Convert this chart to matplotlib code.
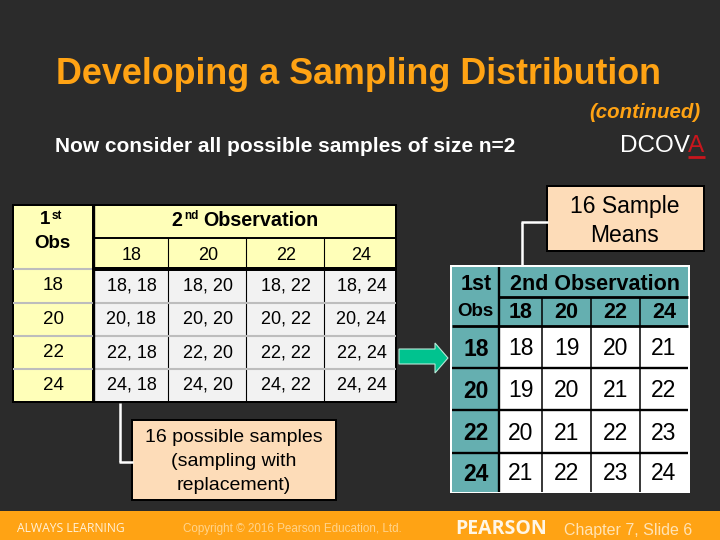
import matplotlib
matplotlib.use("Agg")
import matplotlib.pyplot as plt
from matplotlib.patches import Rectangle, Polygon

plt.rcParams['font.family'] = ['Liberation Sans', 'DejaVu Sans']

## -- values
obs_labels = ["18", "20", "22", "24"]
sample_pairs = [["18,18", "18,20", "18,22", "18,24"],
                ["20,18", "20,20", "20,22", "20,24"],
                ["22,18", "22,20", "22,22", "22,24"],
                ["24,18", "24,20", "24,22", "24,24"]]
sample_means = [[18, 19, 20, 21],
                [19, 20, 21, 22],
                [20, 21, 22, 23],
                [21, 22, 23, 24]]

title = "Developing a Sampling Distribution"
subtitle = "Now consider all possible samples of size n=2"

bg = "#2b2b2b"
orange = "#ffa314"
pale = "#ffffb9"
grey = "#f2f2f2"
peach = "#fddcb8"
teal = "#65afb0"
arrow_col = "#00c38f"

fig = plt.figure(figsize=(7.2, 5.4), dpi=100, facecolor=bg)
ax = fig.add_axes([0, 0, 1, 1])
ax.set_xlim(0, 720)
ax.set_ylim(540, 0)
ax.axis("off")


def box(x0, y0, x1, y1, col, z=1):
    ax.add_patch(Rectangle((x0, y0), x1 - x0, y1 - y0, fc=col, ec="none", zorder=z))


def hline(y, x0, x1, col="black", lw=1.5):
    ax.plot([x0, x1], [y, y], color=col, lw=lw, solid_capstyle="butt", zorder=3)


def vline(x, y0, y1, col="black", lw=1.5):
    ax.plot([x, x], [y0, y1], color=col, lw=lw, solid_capstyle="butt", zorder=3)


def txt(x, y, s, size, col="black", w="normal", ha="center", style="normal"):
    ax.text(x, y, s, fontsize=size, color=col, fontweight=w, ha=ha, va="center",
            style=style, zorder=5)


## -- headings
txt(56, 75, title, 25.8, orange, "bold", "left")
txt(700, 112, "(continued)", 14.7, orange, "bold", "right", "italic")
txt(55, 146, subtitle, 15, "white", "bold", "left")
txt(620, 146, "DCOV", 17.5, "white", ha="left")
txt(696.5, 146, "A", 17.5, "#c8161d")
hline(156.5, 688, 705, "#c8161d", 2)

## -- left table
lx = [93, 168, 246, 324, 397]
ly = [269, 303, 336, 369, 402]
box(12, 204, 397, 403, "black")
box(14, 206, 92, 401, pale, 2)
box(95, 206, 395, 267, pale, 2)
box(95, 271, 395, 401, grey, 2)
hline(238, 95, 395, lw=1.4)
hline(269, 95, 395, lw=1.7)
for x in lx[1:4]:
    vline(x, 238, 402, lw=0.8)
for y in ly[1:4]:
    hline(y, 13, 396, "#bdbdbd", 1.5)
hline(269, 13, 92, "#bdbdbd", 1.5)
vline(93.5, 204, 403, lw=1.7)

txt(50, 220, "1", 13.5, w="bold", ha="right")
txt(52, 216, "st", 8.5, w="bold", ha="left")
txt(52, 244, "Obs", 13.5, w="bold")
txt(171, 220, "2", 14.2, w="bold", ha="left")
txt(184, 216, "nd", 8.5, w="bold", ha="left")
txt(203, 220, "Observation", 14.2, w="bold", ha="left")

for j, lab in enumerate(obs_labels):
    cx = (lx[j] + lx[j + 1]) / 2 + 1
    txt(cx, 255, lab, 13)
for i, lab in enumerate(obs_labels):
    cy = (ly[i] + ly[i + 1]) / 2
    txt(53, cy, lab, 13.5)
    for j, pair in enumerate(sample_pairs[i]):
        cx = (lx[j] + lx[j + 1]) / 2 + 1
        txt(cx, cy, pair.replace(",", ", "), 13)

## -- right table
rx = [499, 542, 591, 640, 688]
ry = [326, 368, 410, 453, 492]
box(450, 265, 690, 493, "white")
box(452, 267, 688, 326, teal, 2)
box(452, 326, 498, 492, teal, 2)
hline(297, 499, 688, lw=2)
hline(326, 452, 688, lw=2)
for x in rx[1:4]:
    vline(x, 297, 492, lw=1.1)
for y in ry[1:4]:
    hline(y, 452, 688, lw=1.7)
vline(499, 267, 492, lw=1.7)

txt(476, 284, "1st", 15.5, w="bold")
txt(475, 312, "Obs", 13.5, w="bold")
txt(594.5, 284, "2nd Observation", 15.5, w="bold")
for j, lab in enumerate(obs_labels):
    cx = (rx[j] + rx[j + 1]) / 2
    txt(cx, 313, lab, 15.5, w="bold")
for i, lab in enumerate(obs_labels):
    cy = (ry[i] + ry[i + 1]) / 2
    txt(476, cy + 2, lab, 16.5, w="bold")
    for j, val in enumerate(sample_means[i]):
        cx = (rx[j] + rx[j + 1]) / 2
        txt(cx, cy + 1.5, str(val), 16.5)

## -- arrow between tables
ax.add_patch(Polygon([(399, 349), (435, 349), (435, 343), (448, 358), (435, 373),
                      (435, 364), (399, 364)], fc=arrow_col, ec="#b8e8d8", lw=0.8, zorder=4))

## -- callouts
vline(522, 222, 265, "white", 1.8)
hline(222, 521, 548, "white", 1.8)
box(546, 185, 705, 252, "black")
box(548, 187, 703, 250, peach, 2)
txt(625, 207, "16 Sample", 16.5)
txt(625, 235, "Means", 16.5)

vline(120, 403, 462, "white", 1.8)
hline(461.5, 119, 133, "white", 1.8)
box(131, 419, 337, 501, "black")
box(133, 421, 335, 499, peach, 2)
txt(234, 437, "16 possible samples", 14)
txt(234, 461, "(sampling with", 14)
txt(234, 485, "replacement)", 14)

## -- footer
box(0, 511, 720, 540, orange)
ax.text(17, 529, "ALWAYS LEARNING", fontsize=8.7, color="#fff1d8", ha="left", va="center",
        fontfamily="Open Sans")
txt(183, 529, "Copyright © 2016 Pearson Education, Ltd.", 8.4, "#ffd48c", ha="left")
ax.text(455, 529, "PEARSON", fontsize=14, color="#fff6e6", fontweight="bold", ha="left",
        va="center", fontfamily="Open Sans")
txt(564, 530, "Chapter 7, Slide 6", 11.5, "#ffe3b5", ha="left")

fig.savefig("out.png", dpi=100, facecolor=bg)
